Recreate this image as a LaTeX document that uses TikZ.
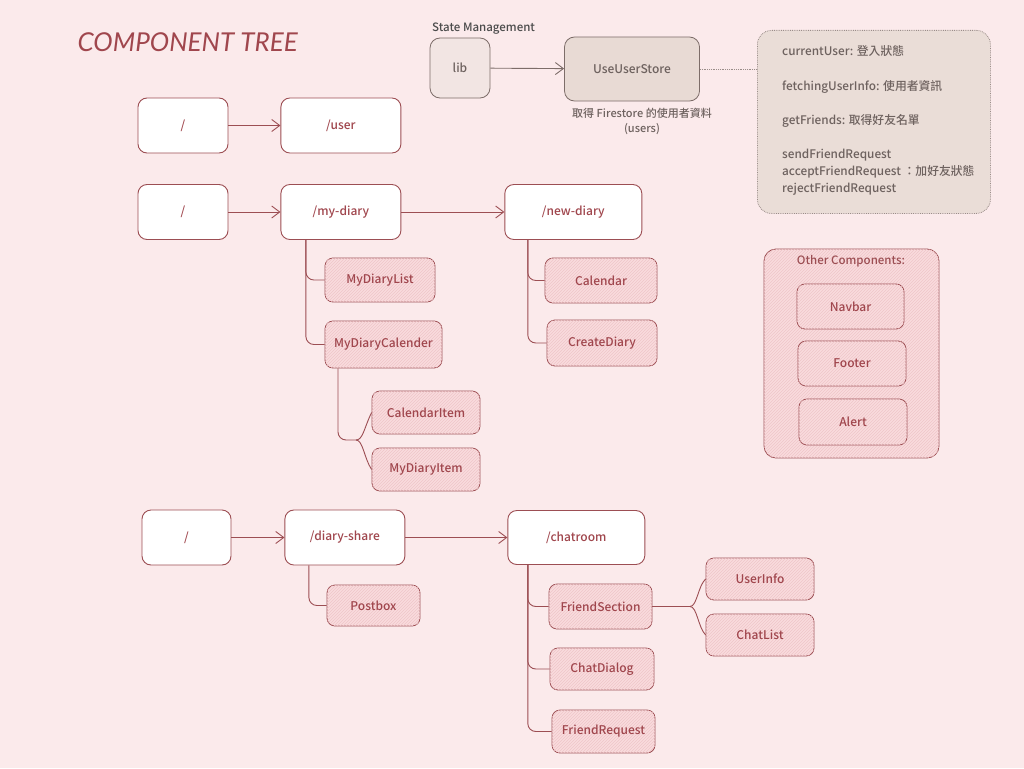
\documentclass[tikz,border=0pt]{standalone}
\usepackage{fontspec}
\setmainfont{Noto Sans CJK TC}[UprightFont=* Medium]
\newfontfamily\titlefont{Lato}
\usetikzlibrary{arrows.meta, positioning, patterns}

\definecolor{bgpink}{HTML}{FBEAEB}
\definecolor{linered}{HTML}{9C4E53}
\definecolor{inkred}{HTML}{A0464D}
\definecolor{compfill}{HTML}{F9DBDD}
\definecolor{hatch}{HTML}{EFC6C9}
\definecolor{libfill}{HTML}{F2E5E3}
\definecolor{storefill}{HTML}{E8DAD4}
\definecolor{storeline}{HTML}{7D6D69}
\definecolor{storetext}{HTML}{6E625F}
\definecolor{notefill}{HTML}{EADDD7}
\definecolor{notedot}{HTML}{9A8D89}

\begin{document}
\begin{tikzpicture}[
    x=1pt, y=-1pt,
    every node/.style={font=\fontsize{12}{14}\selectfont, text=inkred},
    route/.style={rectangle, draw=linered, line width=0.9pt, rounded corners=9pt, fill=white, minimum height=55pt, align=center},
    comp/.style={rectangle, draw=linered, line width=0.8pt, rounded corners=8pt, fill=compfill, postaction={pattern=north east lines, pattern color=hatch}, minimum height=44pt, align=center},
    store/.style={rectangle, draw=storeline, line width=0.8pt, rounded corners=10pt, fill=storefill, text=storetext, align=center},
    notebox/.style={rectangle, draw=notedot, densely dotted, thick, rounded corners=14pt, fill=notefill},
    arrow/.style={-{Straight Barb[length=8pt,width=12pt]}, line width=0.9pt, draw=linered},
    branch/.style={line width=0.9pt, draw=linered, rounded corners=8pt}
]

% page and background
\useasboundingbox (0,0) rectangle (1024,768);
\fill[bgpink] (0,0) rectangle (1024,768);

% Title
\node (title) [anchor=west, font=\titlefont\fontsize{26}{30}\selectfont\itshape, text=inkred] at (74,42) {COMPONENT TREE};

% State management
\node (smlabel) [anchor=south west, inner sep=0pt, text=black!70, font=\fontsize{11.5}{13}\selectfont] at (432,35) {State Management};
\node (lib) [store, fill=libfill, minimum width=60pt, minimum height=60pt] at (460,68) {lib};
\node (uus) [store, minimum width=135pt, minimum height=64pt] at (632,69) {UseUserStore};
\node (uusnote) [below=3pt of uus, xshift=10pt, align=center, text=storetext, font=\fontsize{11}{15}\selectfont] {取得 Firestore 的使用者資料\\(users)};
\node (store) [notebox, anchor=north west, minimum width=233pt, minimum height=183pt] at (757,30) {};
\node (storetext) [anchor=north west, inner sep=0pt, align=left, text=storetext, font=\fontsize{11.8}{17}\selectfont] at (782,45) {currentUser: 登入狀態\\[18pt]fetchingUserInfo: 使用者資訊\\[17pt]getFriends: 取得好友名單\\[17pt]sendFriendRequest\\acceptFriendRequest ：加好友狀態\\rejectFriendRequest};

\draw [arrow, draw=storeline] (lib) -- (uus);
\draw [densely dotted, thick, draw=notedot] (uus.east) -- (uus.east -| store.west);

% Row 1
\node (root1) [route, minimum width=90pt] at (183,125.5) {/};
\node (user) [route, minimum width=120pt, right=52pt of root1] {/user};
\draw [arrow] (root1) -- (user);

% Row 2
\node (root2) [route, minimum width=90pt] at (183,212) {/};
\node (mydiary) [route, minimum width=120pt, right=52pt of root2] {/my-diary};
\node (newdiary) [route, minimum width=137pt, right=103pt of mydiary] {/new-diary};
\node (mydiarylist) [comp, minimum width=110pt] at (380,280) {MyDiaryList};
\node (mydiarycal) [comp, minimum width=117pt, minimum height=47pt] at (383.5,344.5) {MyDiaryCalender};
\node (calitem) [comp, minimum width=108pt, minimum height=43pt] at (426,412.5) {CalendarItem};
\node (mydiaryitem) [comp, minimum width=108pt, minimum height=43pt] at (426,469.5) {MyDiaryItem};
\node (calendar) [comp, minimum width=112pt, minimum height=45pt] at (601,280.5) {Calendar};
\node (creatediary) [comp, minimum width=110pt, minimum height=46pt] at (602,343) {CreateDiary};
\coordinate (calfork) at (356,440);

\draw [arrow] (root2) -- (mydiary);
\draw [arrow] (mydiary) -- (newdiary);
\draw [branch] ([xshift=-35pt]mydiary.south) |- (mydiarylist.west);
\draw [branch] ([xshift=-35pt]mydiary.south) |- (mydiarycal.west);
\draw [branch] ([xshift=-45.5pt]newdiary.south) |- (calendar.west);
\draw [branch] ([xshift=-45.5pt]newdiary.south) |- (creatediary.west);
\draw [branch] ([xshift=-45.5pt]mydiarycal.south) |- (calfork);
\draw [branch] (calfork) .. controls (363,440) and (364,428) .. (calitem.west);
\draw [branch] (calfork) .. controls (363,440) and (364,458) .. (mydiaryitem.west);

% Row 3
\node (root3) [route, minimum width=89pt] at (186.5,537.5) {/};
\node (diaryshare) [route, minimum width=120pt, right=53pt of root3] {/diary-share};
\node (chatroom) [route, minimum width=137pt, minimum height=54pt, right=102pt of diaryshare] {/chatroom};
\node (postbox) [comp, minimum width=93pt, minimum height=41pt] at (373.5,605.5) {Postbox};
\node (friendsection) [comp, minimum width=103pt, minimum height=45pt] at (600.5,606.5) {FriendSection};
\node (chatdialog) [comp, minimum width=104pt, minimum height=42pt] at (602,669) {ChatDialog};
\node (friendrequest) [comp, minimum width=103pt, minimum height=43pt] at (603.5,731.5) {FriendRequest};
\node (userinfo) [comp, minimum width=108pt, minimum height=42pt] at (760,579) {UserInfo};
\node (chatlist) [comp, minimum width=108pt, minimum height=42pt] at (760,635) {ChatList};
\coordinate (fsfork) at (690,606.5);

\draw [arrow] (root3) -- (diaryshare);
\draw [arrow] (diaryshare) -- (chatroom);
\draw [branch] ([xshift=-36pt]diaryshare.south) |- (postbox.west);
\draw [branch] ([xshift=-48.5pt]chatroom.south) |- (friendsection.west);
\draw [branch] ([xshift=-48.5pt]chatroom.south) |- (chatdialog.west);
\draw [branch] ([xshift=-48.5pt]chatroom.south) |- (friendrequest.west);
\draw [branch] (friendsection.east) -- (fsfork);
\draw [branch] (fsfork) .. controls (697,606.5) and (698,586) .. (userinfo.west);
\draw [branch] (fsfork) .. controls (697,606.5) and (698,627) .. (chatlist.west);

% Other components
\node (others) [comp, rounded corners=12pt, minimum width=175pt, minimum height=209pt] at (851.5,353.5) {};
\node (othertitle) [font=\fontsize{11.5}{13}\selectfont, text=linered] at (851,261) {Other Components:};
\node (navbar) [comp, minimum width=107pt, minimum height=45pt] at (850.5,306.5) {Navbar};
\node (footer) [comp, minimum width=108pt, minimum height=45pt] at (852,363.5) {Footer};
\node (alert) [comp, minimum width=108pt, minimum height=46pt] at (853,422) {Alert};

\end{tikzpicture}
\end{document}
